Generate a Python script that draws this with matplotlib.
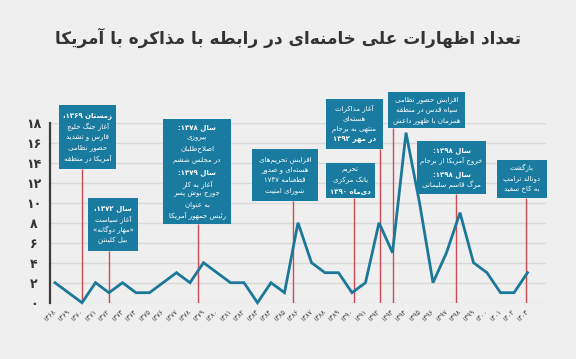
import re
import matplotlib.pyplot as plt
from matplotlib.patches import Rectangle

plt.rcParams['font.family'] = ['DejaVu Sans']

# data
years = ['۱۳۶۸', '۱۳۶۹', '۱۳۷۰', '۱۳۷۱', '۱۳۷۲', '۱۳۷۳', '۱۳۷۴', '۱۳۷۵', '۱۳۷۶',
         '۱۳۷۷', '۱۳۷۸', '۱۳۷۹', '۱۳۸۰', '۱۳۸۱', '۱۳۸۲', '۱۳۸۳', '۱۳۸۴', '۱۳۸۵',
         '۱۳۸۶', '۱۳۸۷', '۱۳۸۸', '۱۳۸۹', '۱۳۹۰', '۱۳۹۱', '۱۳۹۲', '۱۳۹۳', '۱۳۹۴',
         '۱۳۹۵', '۱۳۹۶', '۱۳۹۷', '۱۳۹۸', '۱۳۹۹', '۱۴۰۰', '۱۴۰۱', '۱۴۰۲', '۱۴۰۳']
counts = [2, 1, 0, 2, 1, 2, 1, 1, 2, 3, 2, 4, 3, 2, 2, 0, 2, 1,
          8, 4, 3, 3, 1, 2, 8, 5, 17, 10, 2, 5, 9, 4, 3, 1, 1, 3]
ytick_vals = [0, 2, 4, 6, 8, 10, 12, 14, 16, 18]
ytick_labels = ['۰', '۲', '۴', '۶', '۸', '۱۰', '۱۲', '۱۴', '۱۶', '۱۸']

title = 'تعداد اظهارات علی خامنه‌ای در رابطه با مذاکره با آمریکا'

# events: where the red line stands and the box text (bold lines start with *)
event_x = [2, 4, 10.6, 17.6, 24.1, 22.15, 25, 29.7, 34.9]
event_text = [
    ['*زمستان ۱۳۶۹،', 'آغاز جنگ خلیج', 'فارس و تشدید', 'حضور نظامی', 'آمریکا در منطقه'],
    ['*سال ۱۳۷۲،', 'آغاز سیاست', '«مهار دوگانه»', 'بیل کلینتن'],
    ['*سال ۱۳۷۸:', 'پیروزی', 'اصلاح‌طلبان', 'در مجلس ششم', '',
     '*سال ۱۳۷۹:', 'آغاز به کار', 'جورج بوش پسر', 'به عنوان', 'رئیس جمهور آمریکا'],
    ['افزایش تحریم‌های', 'هسته‌ای و صدور', 'قطعنامه ۱۷۴۷', 'شورای امنیت'],
    ['آغاز مذاکرات', 'هسته‌ای', 'منتهی به برجام', '*در مهر ۱۳۹۲'],
    ['تحریم', 'بانک مرکزی', '*دی‌ماه ۱۳۹۰'],
    ['افزایش حضور نظامی', 'سپاه قدس در منطقه', 'همزمان با ظهور داعش'],
    ['*سال ۱۳۹۸:', 'خروج آمریکا از برجام', '',
     '*سال ۱۳۹۸:', 'مرگ قاسم سلیمانی'],
    ['بازگشت', 'دونالد ترامپ', 'به کاخ سفید'],
]
# box extents in data units: x0, x1, y_bottom, y_top
box_x0 = [0.30, 2.44, 8.0, 14.59, 20.07, 20.07, 24.67, 26.81, 32.74]
box_x1 = [4.52, 6.15, 13.04, 19.48, 24.3, 23.7, 30.37, 31.93, 36.44]
box_y0 = [13.37, 5.17, 7.87, 10.17, 15.37, 10.47, 17.47, 10.87, 10.47]
box_y1 = [19.77, 10.47, 18.37, 15.37, 20.37, 13.97, 21.07, 16.17, 14.27]


# --- minimal persian shaping + right-to-left ordering (no bidi libs here) ---
FORMS = {
    'ا': ('\uFE8D', '\uFE8E'), 'آ': ('\uFE81', '\uFE82'), 'أ': ('\uFE83', '\uFE84'),
    'د': ('\uFEA9', '\uFEAA'), 'ذ': ('\uFEAB', '\uFEAC'), 'ر': ('\uFEAD', '\uFEAE'),
    'ز': ('\uFEAF', '\uFEB0'), 'ژ': ('\uFB8A', '\uFB8B'), 'و': ('\uFEED', '\uFEEE'),
    'ب': ('\uFE8F', '\uFE90', '\uFE91', '\uFE92'), 'پ': ('\uFB56', '\uFB57', '\uFB58', '\uFB59'),
    'ت': ('\uFE95', '\uFE96', '\uFE97', '\uFE98'), 'ث': ('\uFE99', '\uFE9A', '\uFE9B', '\uFE9C'),
    'ج': ('\uFE9D', '\uFE9E', '\uFE9F', '\uFEA0'), 'چ': ('\uFB7A', '\uFB7B', '\uFB7C', '\uFB7D'),
    'ح': ('\uFEA1', '\uFEA2', '\uFEA3', '\uFEA4'), 'خ': ('\uFEA5', '\uFEA6', '\uFEA7', '\uFEA8'),
    'س': ('\uFEB1', '\uFEB2', '\uFEB3', '\uFEB4'), 'ش': ('\uFEB5', '\uFEB6', '\uFEB7', '\uFEB8'),
    'ص': ('\uFEB9', '\uFEBA', '\uFEBB', '\uFEBC'), 'ض': ('\uFEBD', '\uFEBE', '\uFEBF', '\uFEC0'),
    'ط': ('\uFEC1', '\uFEC2', '\uFEC3', '\uFEC4'), 'ظ': ('\uFEC5', '\uFEC6', '\uFEC7', '\uFEC8'),
    'ع': ('\uFEC9', '\uFECA', '\uFECB', '\uFECC'), 'غ': ('\uFECD', '\uFECE', '\uFECF', '\uFED0'),
    'ف': ('\uFED1', '\uFED2', '\uFED3', '\uFED4'), 'ق': ('\uFED5', '\uFED6', '\uFED7', '\uFED8'),
    'ک': ('\uFB8E', '\uFB8F', '\uFB90', '\uFB91'), 'گ': ('\uFB92', '\uFB93', '\uFB94', '\uFB95'),
    'ل': ('\uFEDD', '\uFEDE', '\uFEDF', '\uFEE0'), 'م': ('\uFEE1', '\uFEE2', '\uFEE3', '\uFEE4'),
    'ن': ('\uFEE5', '\uFEE6', '\uFEE7', '\uFEE8'), 'ه': ('\uFEE9', '\uFEEA', '\uFEEB', '\uFEEC'),
    'ی': ('\uFBFC', '\uFBFD', '\uFBFE', '\uFBFF'), 'ئ': ('\uFE89', '\uFE8A', '\uFE8B', '\uFE8C'),
}
LAM_ALEF = {'ا': ('\uFEFB', '\uFEFC'), 'آ': ('\uFEF5', '\uFEF6'), 'أ': ('\uFEF7', '\uFEF8')}
DIGITS = '0123456789۰۱۲۳۴۵۶۷۸۹'
MIRROR = str.maketrans('«»()', '»«)(')


def shape(s):
    out = []
    i = 0
    while i < len(s):
        c = s[i]
        prev = s[i - 1] if i > 0 else ''
        prev_joins = prev in FORMS and len(FORMS[prev]) == 4
        if c == 'ل' and i + 1 < len(s) and s[i + 1] in LAM_ALEF:
            out.append(LAM_ALEF[s[i + 1]][1 if prev_joins else 0])
            i += 2
            continue
        if c in FORMS:
            f = FORMS[c]
            nxt = s[i + 1] if i + 1 < len(s) else ''
            next_joins = nxt in FORMS and len(f) == 4
            if len(f) == 2:
                out.append(f[1] if prev_joins else f[0])
            elif prev_joins and next_joins:
                out.append(f[3])
            elif next_joins:
                out.append(f[2])
            elif prev_joins:
                out.append(f[1])
            else:
                out.append(f[0])
        elif c != '\u200c':
            out.append(c)
        i += 1
    return ''.join(out)


def fa(s):
    runs = re.findall('[' + DIGITS + ']+|[^' + DIGITS + ']+', shape(s))
    out = []
    for r in reversed(runs):
        if r[0] in DIGITS:
            out.append(r)
        else:
            out.append(r[::-1].translate(MIRROR))
    return ''.join(out)


bg = '#efefef'
blue = '#1b7898'
boxc = '#1a7ba0'
red = '#cf4b53'

fig = plt.figure(figsize=(5.76, 3.59), dpi=100, facecolor=bg)
W, H = 576, 359
ax = fig.add_axes([50 / W, 1 - 302.7 / H, (546 - 50) / W, (302.7 - 122.7) / H])
ax.set_facecolor(bg)

ax.plot(range(len(counts)), counts, color=blue, lw=2.0, zorder=3, clip_on=False,
        solid_joinstyle='miter')

ax.set_xlim(-0.37, 36.37)
ax.set_ylim(0, 18)

ax.set_yticks(ytick_vals)
ax.set_yticklabels(ytick_labels, fontsize=9, fontweight='bold', color='#333333')
for lab in ax.get_yticklabels():
    lab.set_ha('center')
ax.tick_params(axis='y', length=0, pad=11.5)

ax.set_xticks(range(len(years)))
ax.set_xticklabels([fa(y) for y in years], rotation=45, ha='right', va='center',
                   rotation_mode='anchor', fontsize=4.8, color='#444444')
ax.tick_params(axis='x', length=0, pad=6)

ax.grid(axis='y', color='#d9d9d9', lw=1, zorder=0)
for side in ['top', 'right', 'bottom']:
    ax.spines[side].set_visible(False)
ax.spines['left'].set_color('#3c3c3c')
ax.spines['left'].set_linewidth(1.6)
ax.spines['left'].set_bounds(0, 18)

# red markers and boxes
ax.vlines(event_x, 0, box_y0, color=red, lw=1, zorder=2)
line_h = 1.06
for k in range(len(event_x)):
    ax.add_patch(Rectangle((box_x0[k], box_y0[k]), box_x1[k] - box_x0[k],
                           box_y1[k] - box_y0[k], facecolor=boxc, edgecolor='none',
                           zorder=4, clip_on=False))
    lines = event_text[k]
    steps = [0.3 if t == '' else line_h for t in lines]
    total = sum(steps) - line_h
    cx = (box_x0[k] + box_x1[k]) / 2
    y = (box_y0[k] + box_y1[k]) / 2 + total / 2
    for t, st in zip(lines, steps):
        if t != '':
            bold = t.startswith('*')
            ax.text(cx, y, fa(t.lstrip('*')), ha='center', va='center', color='white',
                    fontsize=5.0, fontweight='bold' if bold else 'normal',
                    zorder=5, clip_on=False)
        y -= st

fig.text(0.5, 1 - 38 / H, fa(title), ha='center', va='center', fontsize=12.2,
         fontweight='bold', color='#333333')

fig.savefig('out.png', dpi=100, facecolor=bg)
